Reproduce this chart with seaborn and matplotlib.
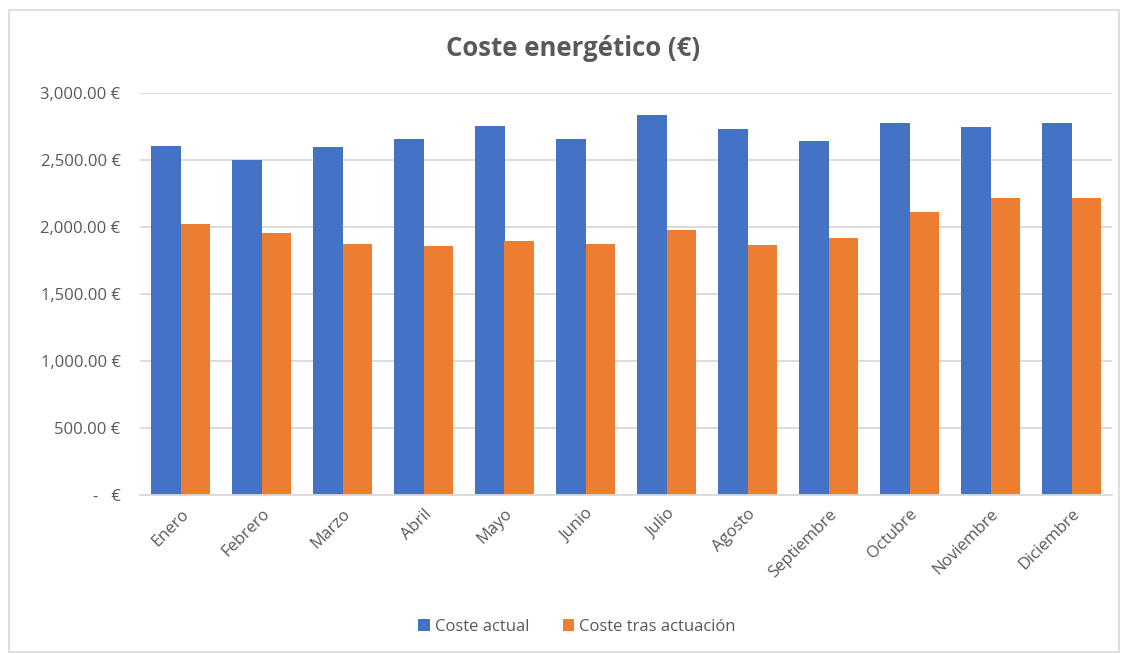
import matplotlib
matplotlib.use("Agg")
from matplotlib import pyplot as plt
from matplotlib.patches import Rectangle
from matplotlib.ticker import FuncFormatter
import pandas
import seaborn

meses = ['Enero', 'Febrero', 'Marzo', 'Abril', 'Mayo', 'Junio', 'Julio',
         'Agosto', 'Septiembre', 'Octubre', 'Noviembre', 'Diciembre']
coste_actual = [2604, 2500, 2597, 2659, 2756, 2659, 2838, 2731, 2644, 2773, 2748, 2773]
coste_tras = [2022, 1957, 1875, 1860, 1898, 1875, 1980, 1868, 1918, 2109, 2213, 2215]
series = ['Coste actual', 'Coste tras actuación']
colores = ['#4472C4', '#ED7D31']

texto = '#595959'
rejilla = '#D9D9D9'

seaborn.set_theme(style='white')
plt.rcParams['font.family'] = ['Open Sans', 'DejaVu Sans']

frame = pandas.DataFrame({
    'mes': meses * 2,
    'serie': [series[0]] * len(meses) + [series[1]] * len(meses),
    'coste': coste_actual + coste_tras,
})

fig = plt.figure(figsize=(11.24, 6.54), dpi=100)
ax = fig.add_axes([140 / 1124, 1 - 495 / 654, 972 / 1124, 402 / 654])

seaborn.barplot(data=frame, x='mes', y='coste', hue='serie', palette=colores,
                width=0.74, gap=0, saturation=1, linewidth=0, ax=ax, legend=True)

ax.set_ylim(0, 3000)
ax.set_xlim(-0.5, len(meses) - 0.5)
ax.set_yticks(range(0, 3001, 500))
ax.yaxis.grid(True, color=rejilla, linewidth=1.3)
ax.set_axisbelow(True)
for lado in ['top', 'right', 'left']:
    ax.spines[lado].set_visible(False)
ax.spines['bottom'].set_color(rejilla)
ax.spines['bottom'].set_linewidth(1.3)


def euros(v, pos):
    if v == 0:
        return '-   €'
    return '{:,.2f} €'.format(v)


ax.yaxis.set_major_formatter(FuncFormatter(euros))
ax.tick_params(axis='y', length=0, pad=14, labelsize=12, labelcolor=texto)
ax.tick_params(axis='x', length=0, pad=8, labelsize=12, labelcolor=texto)
for lbl in ax.get_xticklabels():
    lbl.set_rotation(45)
    lbl.set_ha('right')
    lbl.set_rotation_mode('anchor')
ax.set_xlabel('')
ax.set_ylabel('')

fig.text(573 / 1124, 1 - 48 / 654, 'Coste energético (€)', ha='center', va='center',
         fontsize=18.5, fontweight='bold', color=texto)

handles, labels = ax.get_legend_handles_labels()
ax.legend(handles, labels, loc='center', bbox_to_anchor=(577 / 1124, 1 - 627 / 654),
          bbox_transform=fig.transFigure, ncol=2, frameon=False, fontsize=12,
          labelcolor=texto, handlelength=0.7, handleheight=0.7, handletextpad=0.3,
          columnspacing=2.0)

fig.patches.append(Rectangle((9 / 1124, 2 / 654), 1110 / 1124, 642 / 654,
                             transform=fig.transFigure, fill=False,
                             edgecolor=rejilla, linewidth=1.2))

fig.savefig('out.png', dpi=100)
